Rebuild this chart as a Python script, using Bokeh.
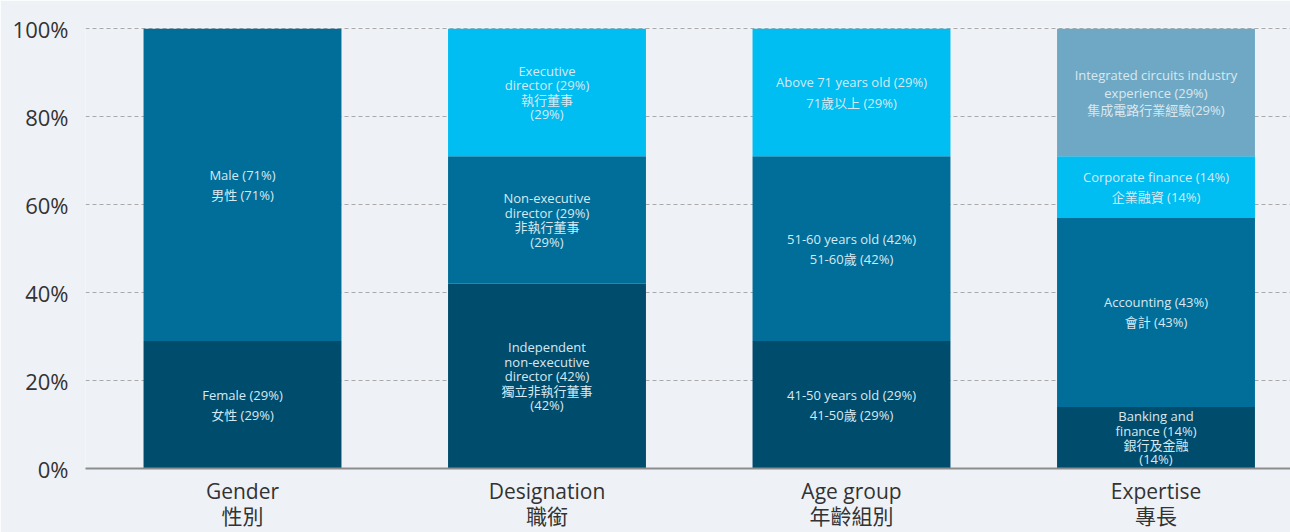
from bokeh.plotting import figure
from bokeh.models import (ColumnDataSource, Range1d, FixedTicker, PrintfTickFormatter,
                          LinearAxis)
from bokeh.core.properties import value
from bokeh.embed import file_html
from bokeh.resources import INLINE

# ---- data ----
categories = ["Gender", "Designation", "Age group", "Expertise"]
categories_zh = ["性別", "職銜", "年齡組別", "專長"]

gender_values = [29, 71]
gender_labels = ["Female (29%)\n女性 (29%)", "Male (71%)\n男性 (71%)"]

designation_values = [42, 29, 29]
designation_labels = [
    "Independent\nnon-executive\ndirector (42%)\n獨立非執行董事\n(42%)",
    "Non-executive\ndirector (29%)\n非執行董事\n(29%)",
    "Executive\ndirector (29%)\n執行董事\n(29%)",
]

age_values = [29, 42, 29]
age_labels = [
    "41-50 years old (29%)\n41-50歲 (29%)",
    "51-60 years old (42%)\n51-60歲 (42%)",
    "Above 71 years old (29%)\n71歲以上 (29%)",
]

expertise_values = [14, 43, 14, 29]
expertise_labels = [
    "Banking and\nfinance (14%)\n銀行及金融\n(14%)",
    "Accounting (43%)\n會計 (43%)",
    "Corporate finance (14%)\n企業融資 (14%)",
    "Integrated circuits industry\nexperience (29%)\n集成電路行業經驗(29%)",
]

y_ticks = [0, 20, 40, 60, 80, 100]

# ---- styles ----
DARK, MID, CYAN, STEEL = "#004c6d", "#006e99", "#00bdf2", "#6fa8c4"
segment_colors = [DARK, MID, CYAN, STEEL]
FONT = "'Open Sans', 'Noto Sans CJK TC', sans-serif"
BG = "#eef2f7"

groups = [
    (gender_values, gender_labels),
    (designation_values, designation_labels),
    (age_values, age_labels),
    (expertise_values, expertise_labels),
]

xs, bottoms, tops, colors, labels, mids, lhs = [], [], [], [], [], [], []
for i, (vals, labs) in enumerate(groups):
    cum = 0
    for j, (v, lab) in enumerate(zip(vals, labs)):
        xs.append(i)
        bottoms.append(cum)
        tops.append(cum + v)
        mids.append(cum + v / 2)
        colors.append(segment_colors[j])
        labels.append(lab)
        n = lab.count("\n") + 1
        lhs.append(1.12 if n == 2 else (0.95 if n == 3 else 0.8))
        cum += v

src = ColumnDataSource(dict(x=xs, bottom=bottoms, top=tops, color=colors,
                            label=labels, mid=mids, lh=lhs))

p = figure(width=1290, height=532, output_backend="svg", toolbar_location=None,
           x_range=Range1d(-0.5156, 3.4417), y_range=Range1d(0, 100.3),
           min_border_left=85, min_border_right=0, min_border_top=27,
           min_border_bottom=10)

p.background_fill_color = BG
p.border_fill_color = BG
p.outline_line_color = None

p.vbar(x="x", bottom="bottom", top="top", width=0.65, fill_color="color",
       line_color=None, source=src)

p.text(x="x", y="mid", text="label", source=src, text_align="center",
       text_baseline="middle", text_font_size="13px", text_color="#d8e8f1",
       text_line_height="lh", text_font=value(FONT))

ticks_x = list(range(len(categories)))

# English category axis
p.xaxis.ticker = FixedTicker(ticks=ticks_x)
p.xaxis.major_label_overrides = {i: en for i, en in enumerate(categories)}
p.xaxis.major_label_text_font_size = "21px"
p.xaxis.major_label_text_font = FONT
p.xaxis.major_label_text_color = "#333333"
p.xaxis.major_label_standoff = 8
p.xaxis.major_tick_out = 0
p.xaxis.major_tick_in = 0
p.xaxis.axis_label_standoff = 0
p.xaxis.major_tick_line_color = None
p.xaxis.minor_tick_line_color = None
p.xaxis.axis_line_color = "#8c8c8c"
p.xaxis.axis_line_width = 2

# Chinese category axis (second row)
zh_axis = LinearAxis(ticker=FixedTicker(ticks=ticks_x),
                     major_label_overrides={i: zh for i, zh in enumerate(categories_zh)})
zh_axis.major_label_text_font_size = "21px"
zh_axis.major_label_text_font = FONT
zh_axis.major_label_text_color = "#333333"
zh_axis.major_label_standoff = -6
zh_axis.major_tick_out = 0
zh_axis.major_tick_in = 0
zh_axis.axis_label_standoff = 0
zh_axis.major_tick_line_color = None
zh_axis.minor_tick_line_color = None
zh_axis.axis_line_color = None
p.add_layout(zh_axis, "below")

p.yaxis.ticker = FixedTicker(ticks=y_ticks)
p.yaxis.formatter = PrintfTickFormatter(format="%d%%")
p.yaxis.major_label_text_font_size = "22px"
p.yaxis.major_label_text_font = FONT
p.yaxis.major_label_text_color = "#333333"
p.yaxis.major_label_standoff = 11
p.yaxis.major_tick_line_color = None
p.yaxis.minor_tick_line_color = None
p.yaxis.axis_line_color = None

p.xgrid.grid_line_color = None
p.ygrid.grid_line_color = "#aaaaaa"
p.ygrid.grid_line_dash = "4 3"
p.ygrid.grid_line_width = 1

open("out.html", "w").write(file_html(p, INLINE))
